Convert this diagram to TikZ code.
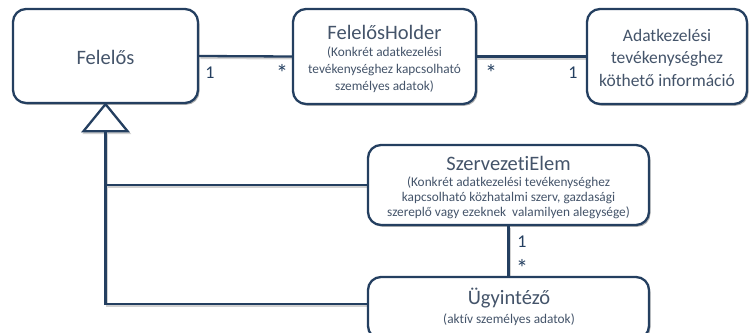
\documentclass[tikz,border=0pt]{standalone}
\usepackage{fontspec}
\setmainfont{Carlito}[RawFeature={-liga;-clig;-calt;-dlig}]
\usetikzlibrary{shadows,backgrounds}
\definecolor{edgecol}{RGB}{36,63,96}
\definecolor{inkcol}{RGB}{68,84,106}
\begin{document}
\begin{tikzpicture}[x=1pt,y=-1pt,
  box/.style={draw=edgecol, line width=2.3pt, rounded corners=13pt, fill=white, inner sep=0pt,
    drop shadow={shadow xshift=1.5pt, shadow yshift=-1.8pt, opacity=0.3, fill=black}},
  conn/.style={draw=edgecol, line width=2.3pt},
  shadowline/.style={draw=black!18, line width=2.4pt, transform canvas={shift={(1.3pt,-1.8pt)}}},
  titletext/.style={text=inkcol, inner sep=0pt, font=\fontsize{20.5}{24}\selectfont},
  subtext/.style={text=inkcol, inner sep=0pt, align=center, font=\fontsize{13.3}{#1}\selectfont},
  mult/.style={text=edgecol, inner sep=0pt, font=\fontsize{18}{21}\selectfont},
  star/.style={text=edgecol, inner sep=0pt, font=\fontsize{24}{26}\selectfont}
]
\useasboundingbox (0,0) rectangle (749,332);

% boxes
\node[box, minimum width=185pt, minimum height=94pt] (fel) at (105.5,56) {};
\node[box, minimum width=183pt, minimum height=95pt] (hold) at (384.5,56.5) {};
\node[box, minimum width=160pt, minimum height=95pt] (adat) at (667,56.5) {};
\node[box, minimum width=281pt, minimum height=80pt] (sz) at (508.5,185) {};
\node[box, minimum width=281pt, minimum height=62pt] (ugy) at (508.5,308) {};

% texts
\node[titletext] (felT) at (105.5,57) {Felelős};
\node[titletext] (holdT) at (384.5,32) {FelelősHolder};
\node[subtext=16.8] (holdS) at (384.5,70) {(Konkrét adatkezelési\\tevékenységhez kapcsolható\\személyes adatok)};
\node[text=inkcol, inner sep=0pt, align=center, font=\fontsize{17.5}{22.5}\selectfont] (adatT) at (667,57.5) {Adatkezelési\\tevékenységhez\\köthető információ};
\node[titletext] (szT) at (508.5,163) {SzervezetiElem};
\node[subtext=15] (szS) at (508.5,198) {(Konkrét adatkezelési tevékenységhez\\kapcsolható közhatalmi szerv, gazdasági\\szereplő vagy ezeknek~ valamilyen alegysége)};
\node[titletext] (ugyT) at (509,298) {Ügyintéző};
\node[subtext=16] (ugyS) at (509,320) {(aktív személyes adatok)};

% connector coordinates
\coordinate (apex) at (fel.south);
\coordinate (tribase) at ([yshift=-27pt]fel.south);
\coordinate (ugyin) at ([yshift=-28pt]ugy.north west);
\coordinate (corner) at (tribase |- ugyin);
\coordinate (szjoin) at (tribase |- sz.west);

% line shadows
\begin{scope}[on background layer]
  \draw[shadowline] (fel.east) -- (hold.west);
  \draw[shadowline] (hold.east) -- (adat.west);
  \draw[shadowline] (sz.south) -- (ugy.north);
  \draw[shadowline] (tribase) -- (corner) -- (ugyin);
  \draw[shadowline] (szjoin) -- (sz.west);
  \draw[shadowline] (apex) -- ++(-22,27) -- ++(44,0) -- cycle;
\end{scope}

% connectors
\draw[conn] (fel.east) -- (hold.west);
\draw[conn] (hold.east) -- (adat.west);
\draw[conn] (sz.south) -- (ugy.north);
\draw[conn] (tribase) -- (corner) -- (ugyin);
\draw[conn] (szjoin) -- (sz.west);
\draw[conn, fill=white, line join=miter] (apex) -- ++(-22,27) -- ++(44,0) -- cycle;

% multiplicities
\node[mult] (m1) at (210,73) {1};
\node[star] (m2) at (282,73) {*};
\node[star] (m3) at (491,73) {*};
\node[mult] (m4) at (573,73) {1};
\node[mult] (m5) at (522,242) {1};
\node[star] (m6) at (522,268) {*};
\end{tikzpicture}
\end{document}
